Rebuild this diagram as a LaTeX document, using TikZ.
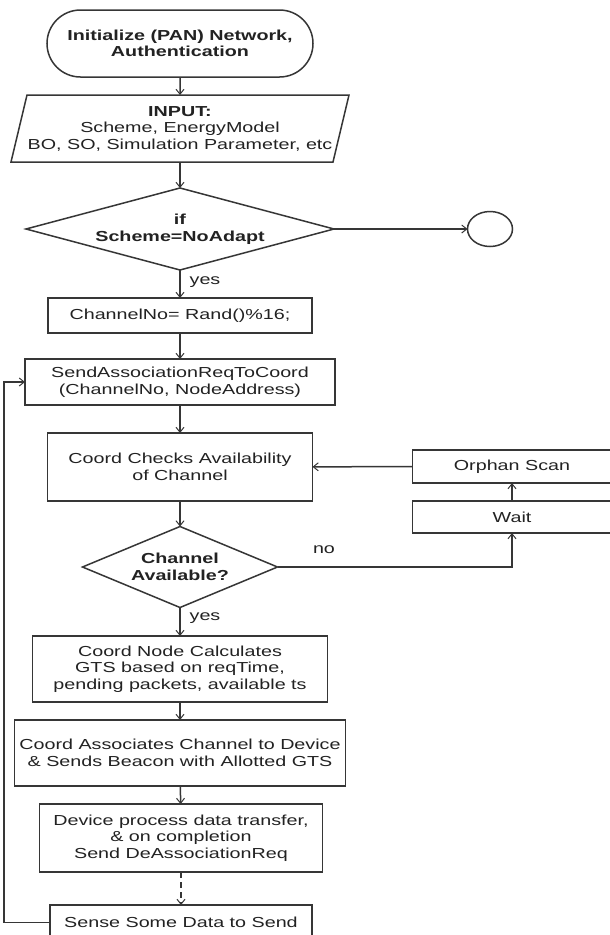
\documentclass[tikz,border=0pt]{standalone}
\usepackage{fontspec}
\setmainfont{Liberation Sans}[FakeStretch=1.36]
\usetikzlibrary{shapes.geometric,shapes.misc,arrows.meta}
\definecolor{ln}{HTML}{363636}
\definecolor{tx}{HTML}{222222}
\begin{document}
\begin{tikzpicture}[x=1pt,y=-1pt,
  every node/.style={font=\fontsize{14.5}{16.5}\selectfont, text=tx, align=center, inner sep=0pt, outer sep=0pt},
  bfont/.style={font=\fontsize{14.5}{16.5}\selectfont\bfseries},
  box/.style={draw=ln, line width=1.5pt, rectangle},
  link/.style={draw=ln, line width=1.5pt, -{Straight Barb[length=5pt,width=8pt,line width=1pt]}},
  dec/.style={draw=ln, line width=1.5pt, diamond, bfont}
]
\fill[white] (0,0) rectangle (610,935);
\useasboundingbox (0,0) rectangle (610,935);

% nodes
\node[draw=ln, line width=1.5pt, rounded rectangle, minimum width=266pt, minimum height=67pt, bfont]
  (term) at (180,43.5) {Initialize (PAN) Network,\\Authentication};
\node[rectangle, minimum width=322pt, minimum height=67pt] (inp) at (180,128.5)
  {\textbf{INPUT:}\\Scheme, EnergyModel\\BO, SO, Simulation Parameter, etc};
\draw[ln, line width=1.5pt] ([xshift=8pt]inp.north west) -- ([xshift=8pt]inp.north east)
  -- ([xshift=-8pt]inp.south east) -- ([xshift=-8pt]inp.south west) -- cycle;
\node[dec, aspect=3.76, minimum width=308pt, minimum height=82pt] (d1) at (180,229) {if\\Scheme=NoAdapt};
\node[draw=ln, line width=1.5pt, ellipse, minimum width=45pt, minimum height=35pt] (stop) at (490,229) {};
\node[box, minimum width=264pt, minimum height=35pt] (ch) at (180,315.5) {ChannelNo= Rand()\%16;};
\node[box, minimum width=310pt, minimum height=46pt] (sa) at (180,382) {SendAssociationReqToCoord\\(ChannelNo, NodeAddress)};
\node[box, minimum width=265pt, minimum height=68pt] (cc) at (180,467) {Coord Checks Availability\\of Channel};
\node[dec, aspect=2.4, minimum width=195pt, minimum height=81pt] (d2) at (180,567) {Channel\\Available?};
\node[box, minimum width=295pt, minimum height=66pt] (cn) at (180,669) {Coord Node Calculates\\GTS based on reqTime,\\pending packets, available ts};
\node[box, minimum width=331pt, minimum height=66pt] (ca) at (180,753) {Coord Associates Channel to Device\\\& Sends Beacon with Allotted GTS};
\node[box, minimum width=283pt, minimum height=68pt] (dev) at (181,838) {Device process data transfer,\\\& on completion\\Send DeAssociationReq};
\node[box, minimum width=262pt, minimum height=35pt] (sense) at (181,922.5) {Sense Some Data to Send};
\node[box, minimum width=199pt, minimum height=33pt] (orph) at (512,466.5) {Orphan Scan};
\node[box, minimum width=199pt, minimum height=32pt] (wait) at (512,517) {Wait};

% labels
\node (yes1) at (205,282) {yes};
\node (yes2) at (205,618) {yes};
\node (no) at (324,550) {no};

% connectors
\draw[link] (term) -- (inp);
\draw[link] (inp) -- (d1);
\draw[link] (d1) -- (stop);
\draw[link] (d1) -- (ch);
\draw[link] (ch) -- (sa);
\draw[link] (sa) -- (cc);
\draw[link] (cc) -- (d2);
\draw[link] (d2) -- (cn);
\draw[link] (cn) -- (ca);
\draw[link] (ca) -- (dev);
\draw[link, dash pattern=on 6pt off 4pt] (dev) -- (sense);
\coordinate (lx) at (4,0);
\draw[link] (sense.west) -- (sense.west -| lx) -- (sa.west -| lx) -- (sa.west);
\draw[link] (d2.east) -| (wait.south);
\draw[link] (wait) -- (orph);
\draw[link] (orph) -- (cc);
\end{tikzpicture}
\end{document}
